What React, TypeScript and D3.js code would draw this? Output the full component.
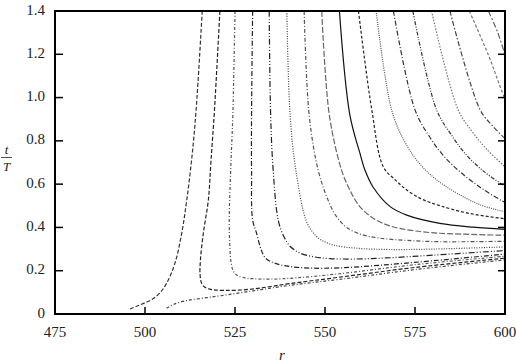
import React from "react";
import * as d3 from "d3";

type Pt = [number, number];

const xTicks = [475, 500, 525, 550, 575, 600];
const yTicks = [0, 0.2, 0.4, 0.6, 0.8, 1.0, 1.2, 1.4];
const yTickLabels = ["0", "0.2", "0.4", "0.6", "0.8", "1.0", "1.2", "1.4"];

const curveA: Pt[] = [[495.8,0.023],[498,0.038],[500,0.052],[502,0.068],[504,0.095],[506,0.142],[508.3,0.234],[510.2,0.373],[511.6,0.527],[513,0.72],[514.2,0.943],[515.9,1.4]];
const curveB: Pt[] = [[506,0.026],[508,0.045],[511.6,0.062],[516,0.073],[520.8,0.084],[530,0.107],[540,0.132],[554,0.16],[575,0.205],[600,0.25]];
const curve2: Pt[] = [[520.8,1.4],[519.3,0.943],[518.3,0.7],[517.6,0.527],[516.2,0.373],[515.4,0.25],[515.3,0.18],[515.8,0.14],[517,0.12],[519,0.112],[522,0.109],[526,0.11],[532,0.12],[540,0.14],[554,0.17],[575,0.215],[600,0.258]];
const curve3: Pt[] = [[525,1.4],[524.4,0.92],[523.8,0.665],[523.4,0.434],[523.6,0.3],[523.9,0.24],[524.5,0.2],[525.6,0.179],[527.5,0.168],[530,0.163],[535,0.161],[542,0.167],[554,0.186],[575,0.228],[600,0.267]];
const curve4: Pt[] = [[529.9,1.4],[529.6,0.92],[529.6,0.665],[529.9,0.434],[531,0.373],[532.2,0.3],[533.5,0.258],[536,0.235],[540,0.22],[546,0.212],[554,0.213],[565,0.225],[580,0.246],[600,0.277]];
const curve5: Pt[] = [[534.5,1.4],[534.9,0.92],[535.6,0.665],[537,0.434],[538.5,0.36],[540.3,0.313],[543,0.282],[547,0.264],[551.4,0.256],[558,0.254],[567,0.259],[580,0.272],[600,0.293]];
const curve6: Pt[] = [[539.4,1.4],[540.3,0.92],[541.9,0.665],[544.7,0.434],[546.5,0.38],[548.5,0.347],[552,0.32],[558.8,0.304],[568,0.298],[580,0.3],[600,0.31]];
const curve7: Pt[] = [[544.2,1.4],[545.6,0.92],[548.1,0.665],[551,0.52],[553.2,0.45],[556,0.4],[560,0.368],[565,0.351],[572.7,0.34],[582,0.334],[600,0.336]];
const curve8: Pt[] = [[549.1,1.4],[551.2,0.92],[554.6,0.665],[556.9,0.573],[559.5,0.5],[563.4,0.442],[568,0.407],[574,0.386],[582,0.373],[600,0.364]];
const curve9: Pt[] = [[554,1.4],[556.9,0.92],[559.7,0.743],[561.1,0.665],[563.3,0.588],[568.1,0.496],[572.7,0.457],[581.9,0.419],[591.2,0.401],[600,0.391]];
const curve10: Pt[] = [[559.3,1.4],[563,0.943],[566.2,0.68],[569.5,0.62],[572.7,0.573],[577,0.53],[582,0.5],[590,0.465],[600,0.44]];
const curve11: Pt[] = [[564.2,1.4],[568.5,0.943],[572,0.8],[576,0.7],[581,0.62],[587,0.555],[593,0.505],[600,0.472]];
const curve12: Pt[] = [[569,1.4],[575,0.943],[579,0.82],[583,0.73],[588,0.65],[594,0.575],[600,0.515]];
const curve13: Pt[] = [[574.4,1.4],[581,0.943],[585,0.83],[589,0.74],[594,0.66],[600,0.59]];
const curve14: Pt[] = [[579.6,1.4],[587,0.943],[591,0.84],[595,0.76],[600,0.68]];
const curve15: Pt[] = [[584.7,1.4],[593.1,0.943],[596.5,0.87],[600,0.81]];
const curve16: Pt[] = [[590.1,1.4],[595.3,1.2],[598,1.08],[600,0.99]];
const curve17: Pt[] = [[595.4,1.4],[598,1.3],[600,1.197]];

const curves: Pt[][] = [curveA, curveB, curve2, curve3, curve4, curve5, curve6, curve7, curve8, curve9, curve10, curve11, curve12, curve13, curve14, curve15, curve16, curve17];
const dashes = ["4,2", "3,2,1,2", "4,2", "3,2,1,2", "5,2,1,2", "6,2,1,2,1,2", "1,1.5", "4,2,1,2", "6,2", "none", "3,2", "1,1.2", "5,2,1,2", "4,1.5,1,1.5,1,1.5", "1.5,1.5", "5,2,1.5,2", "3,2", "6,2,2,2"];
const colors = ["#333", "#444", "#222", "#555", "#222", "#222", "#444", "#555", "#666", "#111", "#222", "#555", "#333", "#333", "#777", "#444", "#777", "#666"];

export default function App() {
  const W = 516, H = 362;
  const L = 55, R = 505, T = 11, B = 314;
  const x = d3.scaleLinear().domain([475, 600]).range([L, R]);
  const y = d3.scaleLinear().domain([0, 1.4]).range([B, T]);
  const line = d3.line<Pt>().x(d => x(d[0])).y(d => y(d[1])).curve(d3.curveCatmullRom.alpha(0.5));
  const font = "'Liberation Serif', 'Times New Roman', serif";
  return (
    <svg width={W} height={H} style={{ position: "absolute", left: 0, top: 0, background: "#fff" }} fontFamily={font}>
      <defs>
        <clipPath id="plot"><rect x={L} y={T} width={R - L} height={B - T} /></clipPath>
      </defs>
      <g clipPath="url(#plot)">
        {curves.map((c, i) => (
          <path key={i} d={line(c) || ""} fill="none" stroke={colors[i]} strokeWidth={1.2}
            strokeDasharray={dashes[i] === "none" ? undefined : dashes[i]} />
        ))}
      </g>
      {/* frame */}
      <rect x={L} y={T} width={R - L} height={B - T} fill="none" stroke="#000" strokeWidth={2} />
      {/* left ticks */}
      {yTicks.slice(1, -1).map((t, i) => (
        <line key={"yl" + i} x1={L} x2={L + 8} y1={y(t)} y2={y(t)} stroke="#000" strokeWidth={1.5} />
      ))}
      {yTicks.slice(1, -1).map((t, i) => (
        <line key={"yr" + i} x1={R} x2={R - 7} y1={y(t)} y2={y(t)} stroke="#000" strokeWidth={1.5} />
      ))}
      {xTicks.slice(1, -1).map((v, i) => (
        <line key={"xt" + i} x1={x(v)} x2={x(v)} y1={B} y2={B - 7} stroke="#000" strokeWidth={1.5} />
      ))}
      {yTicks.map((t, i) => (
        <text key={"ylab" + i} x={45} y={y(t) + 3.5} textAnchor="end" fontSize={15} fill="#222">{yTickLabels[i]}</text>
      ))}
      {xTicks.map((v, i) => (
        <text key={"xlab" + i} x={x(v)} y={337} textAnchor="middle" fontSize={15} fill="#222">{v}</text>
      ))}
      <text x={282} y={360} textAnchor="middle" fontSize={15} fontStyle="italic" fill="#222">r</text>
      <text x={6.5} y={154} textAnchor="middle" fontSize={13} fontStyle="italic" fill="#222">t</text>
      <line x1={1} x2={12} y1={157.5} y2={157.5} stroke="#222" strokeWidth={0.8} />
      <text x={6.5} y={171} textAnchor="middle" fontSize={13} fontStyle="italic" fill="#222">T</text>
    </svg>
  );
}
